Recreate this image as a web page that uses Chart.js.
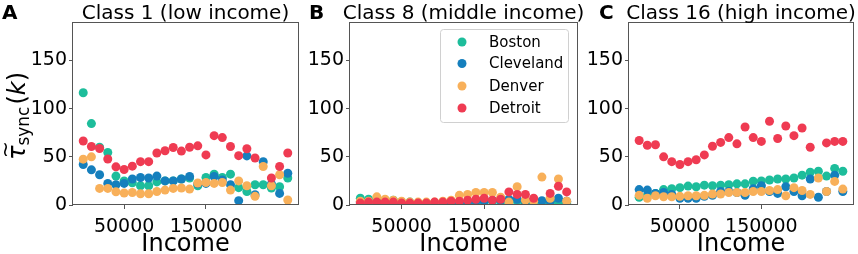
<!DOCTYPE html>
<html>
<head>
<meta charset="utf-8">
<script src="https://cdn.jsdelivr.net/npm/chart.js@4.4.1/dist/chart.umd.min.js"></script>
<style>
html, body { margin: 0; padding: 0; background: #fff; }
#wrap { position: relative; width: 858px; height: 254px; }
canvas { position: absolute; left: 0; top: 0; }
</style>
</head>
<body>
<div id="wrap">
  <canvas id="panelA" width="858" height="254"></canvas>
  <canvas id="panelB" width="858" height="254"></canvas>
  <canvas id="panelC" width="858" height="254"></canvas>
</div>
<script>
// income bins (x values)
const incomes = [0, 10000, 20000, 30000, 40000, 50000, 60000, 70000, 80000, 90000,
  100000, 110000, 120000, 130000, 140000, 150000, 160000, 170000, 180000, 190000,
  200000, 210000, 220000, 230000, 240000, 250000];
const cities = ['Boston', 'Cleveland', 'Denver', 'Detroit'];
const cityColors = ['#1dbd9b', '#157fbd', '#f8b05a', '#ef3b52'];
const xTicks = [50000, 150000];
const yTicks = [0, 50, 100, 150];

// Class 1 (low income)
const c1Boston = [116.5, 84.5, 60, 54.5, 30, 25, 23, 20, 20, 24, 25, 25, 27, 28, 20, 28.6, 32, 28.6, 32, 18, 14, 21, 21, 17.6, 19, 28];
const c1Cleveland = [42, 36.5, 31.4, 22.4, 21, 22.4, 27, 28.6, 28, 30, 25, 25, 27, 29.6, 22, 22.4, 29.6, 26, 21, 4.5, 51, 10.7, 45, 22, 12, 33];
const c1Denver = [47.6, 50, 17.2, 17.2, 13.8, 12.4, 13, 11.7, 11.7, 14, 15.5, 17.2, 17.6, 16.5, 22.8, 23.4, 22.4, 23.4, 15.5, 25, 20, 9, 40, 20, 31.4, 5.2];
const c1Detroit = [66.5, 60.7, 58.7, 47.8, 39.6, 36.9, 40.3, 45, 45, 54, 56.3, 59.7, 56, 60, 61.4, 52, 72, 70, 60.7, 51.2, 58.4, 48.8, null, 28, 40, 54];

// Class 8 (middle income)
const c8Boston = [7, 6, 5, 5, 5, 3, 3, 2, 2, 2, 2, 2, 3, 3, 3, 3, 4, 3, 3, 4, 2, 3, 3, 2, 3, 2];
const c8Cleveland = [3, 3, 3, 3, 3, 2, 2, 2, 2, 2, 2, 3, 3, 3, 4, 4, 5, 5, 6, 6, 4, 5, 4.5, 4, 7, 4];
const c8Denver = [4, 4, 8.5, 6, 5, 4, 3, 3, 3, 3, 4, 5, 10, 11, 13, 13, 13, 8, 3, 19, 5, 4, 29, 7, 27, 4];
const c8Detroit = [2, 3, 3, 3, 3, 2, 2, 2, 2, 3, 3, 4, 4, 5, 6, 7, 5, 6, 13.6, 11, 11, 7, null, 12, 19.5, 13.6];

// Class 16 (high income)
const c16Boston = [8, 10, 12, 16, 17, 18, 19.6, 19, 20.6, 20, 20.6, 21, 22, 22, 24.6, 25, 26, 27, 27, 28, 31, 34, 35, 30, 38, 35];
const c16Cleveland = [16, 15.5, 12, 13, 11, 7, 7, 7, 9, 10, 14, 14, 13, 10, 17, 20, 14, 12, 19, 14, 9.6, 27, 8, 14, 31, 14];
const c16Denver = [10, 7, 9.6, 8.6, 8.6, 9, 9.6, 9.6, 10, 11.4, 11.4, 13, 13, 13, 14, 14, 15, 16, 9.6, 18, 15, 11, 28, 14, 24.5, 16.5];
const c16Detroit = [67, 62, 62.5, 50, 45, 42, 45, 47, 52, 61, 65, 70, 63.5, 81, 70, 66, 87, 69, 82, 72, 80, 60, null, 64.5, 66, 66];

const FONT = 'DejaVu Sans';
const AXIS_W = 50;   // y axis box width
const PLOT_TOP = 22, PLOT_BOTTOM = 205;

const panels = [
  {id: 'panelA', letter: 'A', letterX: 2, title: 'Class 1 (low income)', left: 73, right: 298,
   series: [c1Boston, c1Cleveland, c1Denver, c1Detroit], ylabel: true},
  {id: 'panelB', letter: 'B', letterX: 309, title: 'Class 8 (middle income)', left: 350, right: 577,
   series: [c8Boston, c8Cleveland, c8Denver, c8Detroit], legend: true},
  {id: 'panelC', letter: 'C', letterX: 599, title: 'Class 16 (high income)', left: 629, right: 853,
   series: [c16Boston, c16Cleveland, c16Denver, c16Detroit]}
];

function toPoints(vals) {
  const pts = [];
  for (let i = 0; i < incomes.length; i++) {
    if (vals[i] !== null) pts.push({x: incomes[i], y: vals[i]});
  }
  return pts;
}

const panelDecor = {
  id: 'panelDecor',
  afterDraw(chart, args, opts) {
    const ctx = chart.ctx, a = chart.chartArea;
    ctx.save();
    // frame on all four sides
    ctx.strokeStyle = '#555';
    ctx.lineWidth = 1;
    ctx.strokeRect(Math.round(a.left) - 0.5, Math.round(a.top) + 0.5,
      Math.round(a.right - a.left) + 1, Math.round(a.bottom - a.top) - 1);
    ctx.fillStyle = '#000';
    // title
    ctx.font = '20px "' + FONT + '"';
    ctx.textAlign = 'center';
    ctx.textBaseline = 'alphabetic';
    ctx.fillText(opts.title, (a.left + a.right) / 2, 19);
    // panel letter
    ctx.font = 'bold 20px "' + FONT + '"';
    ctx.textAlign = 'left';
    ctx.fillText(opts.letter, opts.letterX, 19);

    if (opts.ylabel) {
      ctx.translate(25, 116);
      ctx.rotate(-Math.PI / 2);
      const big = 'italic 24px "' + FONT + '"';
      const up = '24px "' + FONT + '"';
      const sub = '17px "' + FONT + '"';
      ctx.font = big; const wTau = ctx.measureText('\u03c4').width;
      ctx.font = sub; const wSub = ctx.measureText('sync').width;
      ctx.font = up; const wP = ctx.measureText('(').width;
      ctx.font = big; const wK = ctx.measureText('k').width;
      const total = wTau + wSub + 2 + wP * 2 + wK;
      let x = -total / 2;
      ctx.textAlign = 'left';
      ctx.font = big; ctx.fillText('\u03c4', x, 0);
      ctx.font = '20px "' + FONT + '"'; ctx.fillText('~', x + 2, -13);
      x += wTau;
      ctx.font = sub; ctx.fillText('sync', x, 4); x += wSub + 2;
      ctx.font = up; ctx.fillText('(', x, 0); x += wP;
      ctx.font = big; ctx.fillText('k', x, 0); x += wK;
      ctx.font = up; ctx.fillText(')', x, 0);
      ctx.setTransform(1, 0, 0, 1, 0, 0);
    }

    if (opts.legend) {
      const bx = 440, by = 29, bw = 128, bh = 93, r = 3;
      ctx.fillStyle = 'rgba(255,255,255,0.8)';
      ctx.strokeStyle = '#d0d0d0';
      ctx.beginPath();
      ctx.roundRect(bx + 0.5, by + 0.5, bw, bh, r);
      ctx.fill();
      ctx.stroke();
      const rows = [42, 63.5, 86, 108];
      ctx.font = '15px "' + FONT + '"';
      ctx.textBaseline = 'middle';
      ctx.textAlign = 'left';
      for (let i = 0; i < cities.length; i++) {
        ctx.fillStyle = cityColors[i];
        ctx.beginPath();
        ctx.arc(462, rows[i], 4.5, 0, Math.PI * 2);
        ctx.fill();
        ctx.fillStyle = '#000';
        ctx.fillText(cities[i], 489, rows[i] + 1);
      }
    }
    ctx.restore();
  }
};

panels.forEach(function(p) {
  const datasets = p.series.map(function(vals, j) {
    return {
      label: cities[j],
      data: toPoints(vals),
      backgroundColor: cityColors[j],
      borderColor: cityColors[j],
      borderWidth: 0,
      pointRadius: 4.5,
      pointHoverRadius: 4.5,
      order: cities.length - 1 - j   // later cities drawn on top
    };
  });
  new Chart(document.getElementById(p.id), {
    type: 'scatter',
    data: {datasets: datasets},
    plugins: [panelDecor],
    options: {
      responsive: false,
      animation: false,
      events: [],
      layout: {
        padding: {left: p.left - AXIS_W, right: 858 - p.right, top: PLOT_TOP, bottom: 0}
      },
      plugins: {
        legend: {display: false},
        tooltip: {enabled: false},
        panelDecor: {title: p.title, letter: p.letter, letterX: p.letterX,
          ylabel: !!p.ylabel, legend: !!p.legend}
      },
      scales: {
        x: {
          type: 'linear',
          min: -12500,
          max: 262500,
          afterBuildTicks: function(scale) { scale.ticks = xTicks.map(v => ({value: v})); },
          afterFit: function(scale) { scale.height = 254 - PLOT_BOTTOM; },
          border: {display: false},
          grid: {drawOnChartArea: false, drawTicks: true, tickLength: 4, tickColor: '#555'},
          ticks: {
            color: '#000', font: {family: FONT, size: 19}, padding: 7,
            maxRotation: 0, autoSkip: false,
            callback: function(v) { return String(v); }
          },
          title: {display: true, text: 'Income', color: '#000',
            font: {family: FONT, size: 24, lineHeight: 1}, padding: {top: 0, bottom: -3}}
        },
        y: {
          min: 0,
          max: 190,
          afterBuildTicks: function(scale) { scale.ticks = yTicks.map(v => ({value: v})); },
          afterFit: function(scale) { scale.width = AXIS_W; },
          border: {display: false},
          grid: {drawOnChartArea: false, drawTicks: true, tickLength: 4, tickColor: '#555'},
          ticks: {color: '#000', font: {family: FONT, size: 19}, padding: 2}
        }
      }
    }
  });
});
</script>
</body>
</html>
